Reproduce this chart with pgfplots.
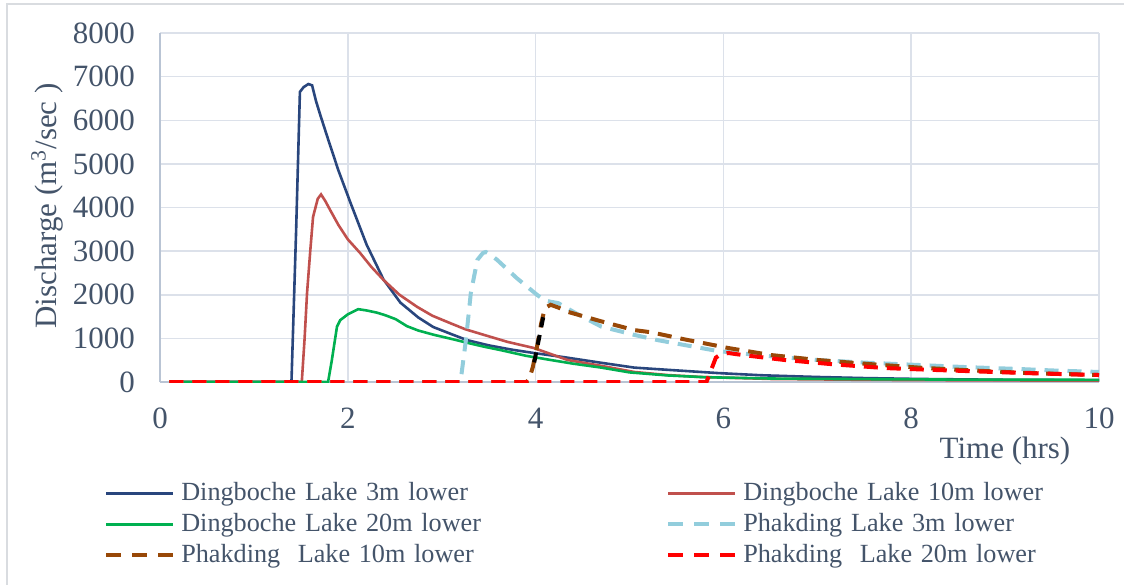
\documentclass[border=0pt]{standalone}
\usepackage{pgfplots}
\pgfplotsset{compat=1.18}
\usepackage{fontspec}
\setmainfont{Liberation Serif}
\definecolor{txt}{RGB}{68,84,106}
\definecolor{cblue}{RGB}{41,70,125}
\definecolor{cred}{RGB}{192,80,77}
\definecolor{cgreen}{RGB}{0,176,80}
\definecolor{clblue}{RGB}{146,205,220}
\definecolor{cbrown}{RGB}{152,72,7}
\definecolor{cdred}{RGB}{255,0,0}
\definecolor{gridc}{RGB}{220,225,234}
\definecolor{axc}{RGB}{185,196,212}
\definecolor{framec}{RGB}{217,220,224}
\begin{document}
\begin{tikzpicture}
\path[use as bounding box] (0,0) rectangle (562pt,292pt);
\draw[framec, line width=1pt] (3.5pt,-2pt) -- (3.5pt,290pt) -- (565pt,290pt);
\begin{axis}[
  at={(80pt,101pt)}, anchor=south west,
  scale only axis, width=469.5pt, height=174.5pt,
  xmin=0, xmax=10, ymin=0, ymax=8000,
  xtick={0,2,4,6,8,10}, ytick={0,1000,...,8000},
  grid=major, major grid style={draw=gridc, line width=0.75pt},
  axis x line*=bottom, axis y line*=left,
  axis line style={draw=axc, line width=0.8pt, -},
  major tick length=0pt,
  /pgf/number format/assume math mode=true,
  /pgf/number format/set thousands separator={},
  scaled y ticks=false,
  ticklabel style={font=\fontsize{15.5}{18}\selectfont, text=txt},
  yticklabel style={xshift=-9pt},
  xticklabel style={yshift=-9.5pt},
  legend columns=2,
  legend cell align=left,
  legend image code/.code={\draw[#1] (0pt,0pt) -- (33.5pt,0pt);},
  legend style={at={(-0.0661,-0.269)}, anchor=north west, draw=none, fill=none,
    font=\fontsize{13.1}{15}\selectfont, text=txt,
    nodes={inner sep=0pt, text height=10pt, text depth=3pt, text width=180pt, align=left},
    row sep=2.5pt,
    /tikz/every odd column/.append style={column sep=3pt},
    /tikz/every even column/.append style={column sep=62.5pt}},
]
\addplot[cblue, line width=1.3pt] coordinates {(0.1,0)(1.40,0)(1.45,3500)(1.49,6650)(1.53,6760)(1.58,6830)(1.62,6800)(1.66,6450)(1.71,6100)(1.8,5500)(1.9,4850)(2.03,4100)(2.2,3150)(2.38,2350)(2.56,1820)(2.75,1480)(2.91,1260)(3.1,1100)(3.27,960)(3.5,840)(3.75,740)(3.98,665)(4.3,570)(4.7,440)(5.05,330)(5.4,280)(5.76,230)(5.94,205)(6.4,155)(7.0,115)(7.5,90)(8.08,70)(9,50)(10,40)};
\addlegendentry{Dingboche Lake 3m lower}
\addplot[cred, line width=1.3pt] coordinates {(0.1,0)(1.51,0)(1.54,1000)(1.566,2040)(1.6,3000)(1.63,3785)(1.68,4200)(1.715,4300)(1.76,4150)(1.81,3950)(1.9,3600)(2.0,3270)(2.13,2960)(2.25,2640)(2.38,2340)(2.55,2000)(2.74,1720)(2.9,1520)(3.09,1350)(3.25,1210)(3.45,1080)(3.7,920)(3.98,780)(4.34,505)(4.7,370)(5.05,230)(5.4,160)(5.76,115)(6.5,70)(7.5,50)(8.5,40)(10,30)};
\addlegendentry{Dingboche Lake 10m lower}
\addplot[cgreen, line width=1.3pt] coordinates {(0.1,0)(1.79,0)(1.83,500)(1.885,1270)(1.92,1420)(2.0,1550)(2.11,1670)(2.2,1640)(2.31,1590)(2.4,1530)(2.51,1440)(2.63,1280)(2.75,1180)(2.92,1080)(3.1,990)(3.27,900)(3.45,810)(3.63,730)(3.9,600)(4.16,505)(4.4,420)(4.7,330)(5.0,220)(5.41,150)(5.8,110)(6.5,80)(7.5,65)(8.5,55)(10,50)};
\addlegendentry{Dingboche Lake 20m lower}
\addplot[clblue, line width=2pt, dash pattern=on 7pt off 4.5pt, legend image post style={dash pattern=on 7.5pt off 5.5pt}] coordinates {(0.1,0)(3.2,0)(3.26,1000)(3.31,2040)(3.38,2800)(3.44,2960)(3.47,2980)(3.53,2900)(3.59,2800)(3.8,2380)(4.02,1990)(4.1,1870)(4.16,1840)(4.24,1810)(4.45,1550)(4.7,1270)(5.05,1080)(5.3,960)(5.58,850)(5.94,710)(6.5,590)(7.0,505)(7.5,445)(8.08,390)(8.6,340)(9.15,298)(9.5,265)(10,230)};
\addlegendentry{Phakding Lake 3m lower}
\addplot[cbrown, line width=2pt, dash pattern=on 7pt off 4.5pt, legend image post style={dash pattern=on 7.5pt off 5.5pt}] coordinates {(0.1,0)(3.9,0)(3.93,50)(3.97,340)(4.01,750)(4.06,1350)(4.1,1700)(4.16,1770)(4.25,1700)(4.34,1610)(4.7,1390)(5.05,1190)(5.23,1140)(5.58,980)(6.05,780)(6.5,620)(7.0,505)(7.5,420)(8.08,330)(8.6,270)(9.15,215)(9.5,190)(10,160)};
\addlegendentry{Phakding\ \ Lake 10m lower}
\addplot[black, line width=2pt, dash pattern=on 5pt off 4pt, forget plot] coordinates {(3.985,450)(4.09,1580)};
\addplot[cdred, line width=2pt, dash pattern=on 7pt off 4.5pt, legend image post style={dash pattern=on 7.5pt off 5.5pt}] coordinates {(0.1,0)(5.82,0)(5.87,280)(5.92,560)(5.97,630)(6.05,665)(6.2,620)(6.65,505)(7.2,400)(7.72,320)(8.2,280)(8.78,237)(9.3,200)(9.89,165)(10,160)};
\addlegendentry{Phakding\ \ Lake 20m lower}
\end{axis}
\node[rotate=90, font=\fontsize{15.5}{18}\selectfont, text=txt] at (23.5pt,189pt) {Discharge (m\textsuperscript{3}/sec )};
\node[font=\fontsize{15.5}{18}\selectfont, text=txt] at (502.5pt,66.5pt) {Time (hrs)};
\end{tikzpicture}
\end{document}
